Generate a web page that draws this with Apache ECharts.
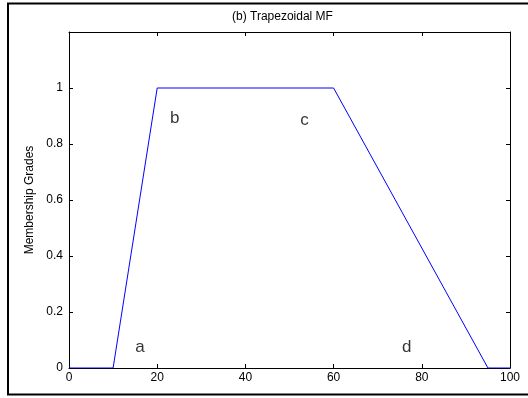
<!DOCTYPE html>
<html>
<head>
<meta charset="utf-8">
<script src="https://cdn.jsdelivr.net/npm/echarts@6/dist/echarts.min.js"></script>
<style>
html,body{margin:0;padding:0;background:#fff;}
#chart{width:528px;height:398px;}
</style>
</head>
<body>
<div id="chart"></div>
<script>
// Trapezoidal MF breakpoints
var mfX = [0, 10, 20, 60, 95, 100];
var mfY = [0, 0, 1, 1, 0, 0];
// Annotation letters and their positions (data coords)
var noteText = ['a', 'b', 'c', 'd'];
var noteX = [16.1, 24, 53.4, 76.6];
var noteY = [0.075, 0.89, 0.883, 0.075];
// Axes ranges / ticks
var xTicks = [0, 20, 40, 60, 80, 100];
var yTicks = [0, 0.2, 0.4, 0.6, 0.8, 1];
var titleText = '(b) Trapezoidal MF';
var yName = 'Membership Grades';

var FONT = 'Liberation Sans, Arial, Helvetica, sans-serif';
var chart = echarts.init(document.getElementById('chart'), null, {renderer: 'canvas'});

var lineData = mfX.map(function (x, i) { return [x, mfY[i]]; });
var noteData = noteText.map(function (t, i) { return {value: [noteX[i], noteY[i]], name: t}; });

var axisCommon = {
  type: 'value',
  axisLine: {show: true, onZero: false, lineStyle: {color: '#000', width: 1}},
  axisTick: {show: true, inside: true, length: 4, lineStyle: {color: '#000'}},
  splitLine: {show: false}
};

chart.setOption({
  backgroundColor: '#fff',
  animation: false,
  title: {
    text: titleText,
    left: 232, top: 11, padding: 0,
    textStyle: {fontFamily: FONT, fontSize: 12, fontWeight: 'normal', color: '#000'}
  },
  graphic: [{
    type: 'rect',
    shape: {x: 8, y: 3.5, width: 560, height: 391},
    style: {fill: null, stroke: '#000', lineWidth: 2},
    silent: true, z: 100
  }],
  grid: {left: 69, top: 32, width: 441, height: 336, containLabel: false},
  xAxis: [
    Object.assign({}, axisCommon, {
      position: 'bottom', min: xTicks[0], max: xTicks[xTicks.length - 1], interval: 20,
      axisLabel: {show: true, margin: 4, fontSize: 12, fontFamily: FONT, color: '#000'}
    }),
    Object.assign({}, axisCommon, {
      position: 'top', min: xTicks[0], max: xTicks[xTicks.length - 1], interval: 20,
      axisLabel: {show: false}
    })
  ],
  yAxis: [
    Object.assign({}, axisCommon, {
      position: 'left', min: 0, max: 1.2, interval: 0.2,
      name: yName, nameLocation: 'middle', nameGap: 31, nameRotate: 90,
      nameTextStyle: {fontFamily: FONT, fontSize: 12, color: '#000'},
      axisLabel: {
        show: true, margin: 6, fontSize: 12, fontFamily: FONT, color: '#000',
        formatter: function (v) {
          var r = Math.round(v * 10) / 10;
          return yTicks.indexOf(r) >= 0 ? String(r) : '';
        }
      }
    }),
    Object.assign({}, axisCommon, {
      position: 'right', min: 0, max: 1.2, interval: 0.2,
      axisLabel: {show: false}
    })
  ],
  series: [
    {
      type: 'line',
      xAxisIndex: 0, yAxisIndex: 0,
      data: lineData,
      showSymbol: false,
      symbol: 'none',
      lineStyle: {color: '#0000ff', width: 1},
      silent: true
    },
    {
      type: 'scatter',
      xAxisIndex: 0, yAxisIndex: 0,
      data: noteData,
      symbolSize: 0,
      label: {
        show: true, position: 'inside',
        formatter: function (p) { return p.name; },
        fontFamily: FONT, fontSize: 17, color: '#000'
      },
      silent: true
    }
  ]
});
</script>
</body>
</html>
